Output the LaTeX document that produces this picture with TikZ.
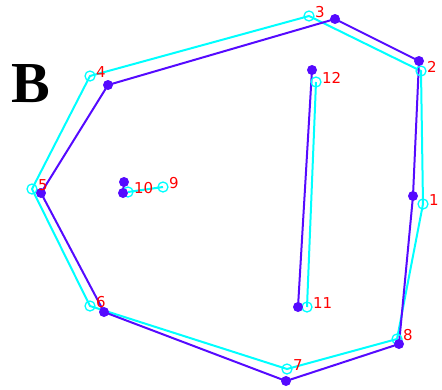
\documentclass[tikz,border=0pt]{standalone}
\usepackage{fontspec}
\setmainfont{Liberation Serif}
\newfontfamily\labelfont{DejaVu Sans}
\usepackage{tikz}
\definecolor{truecyan}{RGB}{0,255,255}
\definecolor{predblue}{RGB}{85,10,255}
\definecolor{labelred}{RGB}{255,0,0}

\begin{document}
\begin{tikzpicture}[
  x=1pt, y=-1pt,
  gt/.style={circle, draw=truecyan, line width=1.3pt, fill=none, inner sep=0pt, minimum size=10pt},
  pred/.style={circle, fill=predblue, inner sep=0pt, minimum size=10pt},
  gtline/.style={truecyan, line width=2pt},
  predline/.style={predblue, line width=2pt},
  idx/.style={anchor=base west, text=labelred, font=\labelfont\fontsize{15}{15}\selectfont, inner sep=0pt},
]
\useasboundingbox (0,0) rectangle (442,389);

% panel letter
\node[font=\bfseries\fontsize{58}{58}\selectfont, inner sep=0pt] (panel) at (31,84) {B};

% ground truth points
\coordinate (g1) at (423,204);
\coordinate (g2) at (421,71);
\coordinate (g3) at (309,16);
\coordinate (g4) at (90,76);
\coordinate (g5) at (32,189);
\coordinate (g6) at (90,306);
\coordinate (g7) at (287,369);
\coordinate (g8) at (397,339);
\coordinate (g9) at (163,187);
\coordinate (g10) at (128,192);
\coordinate (g11) at (307,307);
\coordinate (g12) at (316,82);

% predicted points
\coordinate (p1) at (413,196);
\coordinate (p2) at (419,61);
\coordinate (p3) at (335,19);
\coordinate (p4) at (108,85);
\coordinate (p5) at (41,193);
\coordinate (p6) at (104,312);
\coordinate (p7) at (286,381);
\coordinate (p8) at (399,344);
\coordinate (p9) at (124,182);
\coordinate (p10) at (123,193);
\coordinate (p11) at (298,307);
\coordinate (p12) at (312,70);

% ground truth outline
\draw[gtline] (g1) -- (g2) -- (g3) -- (g4) -- (g5) -- (g6) -- (g7) -- (g8) -- cycle;
\draw[gtline] (g9) -- (g10);
\draw[gtline] (g11) -- (g12);

% predicted outline
\draw[predline] (p1) -- (p2) -- (p3) -- (p4) -- (p5) -- (p6) -- (p7) -- (p8) -- cycle;
\draw[predline] (p9) -- (p10);
\draw[predline] (p11) -- (p12);

% markers
\node[gt] (m1) at (g1) {};
\node[gt] (m2) at (g2) {};
\node[gt] (m3) at (g3) {};
\node[gt] (m4) at (g4) {};
\node[gt] (m5) at (g5) {};
\node[gt] (m6) at (g6) {};
\node[gt] (m7) at (g7) {};
\node[gt] (m8) at (g8) {};
\node[gt] (m9) at (g9) {};
\node[gt] (m10) at (g10) {};
\node[gt] (m11) at (g11) {};
\node[gt] (m12) at (g12) {};

\node[pred] (d1) at (p1) {};
\node[pred] (d2) at (p2) {};
\node[pred] (d3) at (p3) {};
\node[pred] (d4) at (p4) {};
\node[pred] (d5) at (p5) {};
\node[pred] (d6) at (p6) {};
\node[pred] (d7) at (p7) {};
\node[pred] (d8) at (p8) {};
\node[pred] (d9) at (p9) {};
\node[pred] (d10) at (p10) {};
\node[pred] (d11) at (p11) {};
\node[pred] (d12) at (p12) {};

% index labels
\node[idx] (l1) at ([xshift=6pt,yshift=-1pt]g1) {1};
\node[idx] (l2) at ([xshift=6pt,yshift=-1pt]g2) {2};
\node[idx] (l3) at ([xshift=6pt,yshift=-1pt]g3) {3};
\node[idx] (l4) at ([xshift=6pt,yshift=-1pt]g4) {4};
\node[idx] (l5) at ([xshift=6pt,yshift=-1pt]g5) {5};
\node[idx] (l6) at ([xshift=6pt,yshift=-1pt]g6) {6};
\node[idx] (l7) at ([xshift=6pt,yshift=-1pt]g7) {7};
\node[idx] (l8) at ([xshift=6pt,yshift=-1pt]g8) {8};
\node[idx] (l9) at ([xshift=6pt,yshift=-1pt]g9) {9};
\node[idx] (l10) at ([xshift=6pt,yshift=-1pt]g10) {10};
\node[idx] (l11) at ([xshift=6pt,yshift=-1pt]g11) {11};
\node[idx] (l12) at ([xshift=6pt,yshift=-1pt]g12) {12};

\end{tikzpicture}
\end{document}
